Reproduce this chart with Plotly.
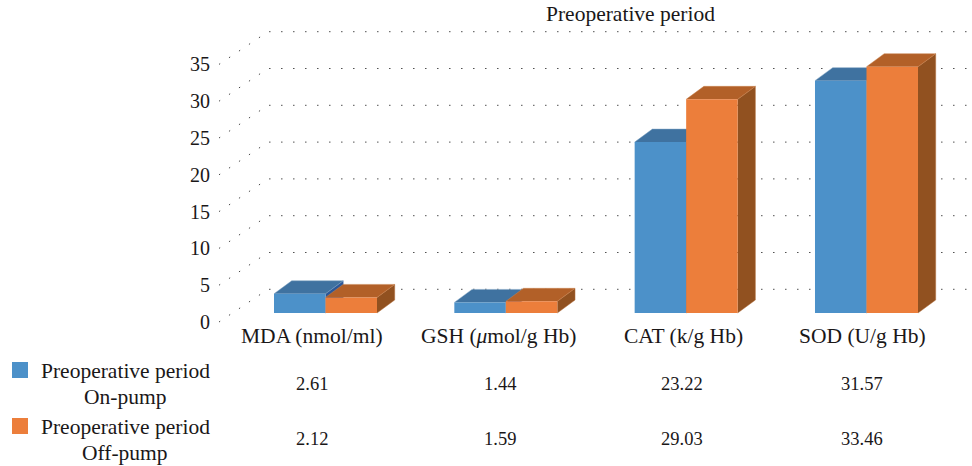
'''
    Preoperative period: pseudo 3D grouped bars with the values table below.
'''

import plotly.graph_objects as go

# data
categories = ['MDA (nmol/ml)', 'GSH (<i>μ</i>mol/g Hb)', 'CAT (k/g Hb)', 'SOD (U/g Hb)']
on_pump = [2.61, 1.44, 23.22, 31.57]
off_pump = [2.12, 1.59, 29.03, 33.46]
y_ticks = [0, 5, 10, 15, 20, 25, 30, 35]
title = 'Preoperative period'
legend_labels = [['Preoperative period', 'On-pump'], ['Preoperative period', 'Off-pump']]

W, H = 972, 466
FONT = 'Liberation Serif'
FONT_SIZE = 21.5
NUM_SIZE = 18.5
TEXT = '#1a1718'

# axis mapping (pixels)
X_CENTER, X_STEP = 325.5, 180.33
Y_ZERO, Y_STEP = 322, 7.36
x_range = [-X_CENTER / X_STEP, (W - X_CENTER) / X_STEP]
y_range = [(Y_ZERO - H) / Y_STEP, Y_ZERO / Y_STEP]

# projection of the 3D look, in axis units
BAR_W = 51.5 / X_STEP
BAR_BASE = 9 / Y_STEP
BAR_DX, BAR_DY = 17.7 / X_STEP, 13 / Y_STEP
GRID_X0 = (219 - X_CENTER) / X_STEP
GRID_DX, GRID_DY = 49 / X_STEP, 32.7 / Y_STEP
GRID_X1 = (968 - X_CENTER) / X_STEP

BLUE = dict(front='#4c91c9', top='#3f72a0', side='#2b5797',
            top_edge='#7fa3c2', side_edge='#4a73ab')
ORANGE = dict(front='#ec7e3b', top='#b26028', side='#915120',
              top_edge='#c9824f', side_edge='#b5713f')

label_x = [312, 498, 683, 862]
value_x = [312, 500, 682, 862]


def box_faces(values, offset):
    top_x, top_y, side_x, side_y = [], [], [], []
    for i, v in enumerate(values):
        x0 = i + offset
        x1 = x0 + BAR_W
        y1 = BAR_BASE + v
        top_x += [x0, x0 + BAR_DX, x1 + BAR_DX, x1, None]
        top_y += [y1, y1 + BAR_DY, y1 + BAR_DY, y1, None]
        side_x += [x1, x1 + BAR_DX, x1 + BAR_DX, x1, None]
        side_y += [BAR_BASE, BAR_BASE + BAR_DY, y1 + BAR_DY, y1, None]
    return top_x, top_y, side_x, side_y


def add_faces(fig, values, offset, colors):
    top_x, top_y, side_x, side_y = box_faces(values, offset)
    faces = [(side_x, side_y, colors['side'], colors['side_edge']),
             (top_x, top_y, colors['top'], colors['top_edge'])]
    for xs, ys, c, edge in faces:
        fig.add_trace(go.Scatter(x=xs, y=ys, mode='lines', fill='toself', fillcolor=c,
                                 line=dict(color=edge, width=0.5), hoverinfo='skip',
                                 showlegend=False))


def text(x, y, s, size=FONT_SIZE):
    return dict(text=s, x=x / W, y=1 - y / H, xref='paper', yref='paper', showarrow=False,
                xanchor='center', yanchor='middle', align='center',
                font=dict(family=FONT, size=size, color=TEXT))


fig = go.Figure()

# dotted floor/wall grid
for t in y_ticks:
    fig.add_trace(go.Scatter(
        x=[GRID_X0, GRID_X0 + GRID_DX, GRID_X1],
        y=[t, t + GRID_DY, t + GRID_DY],
        mode='lines', line=dict(color='#444444', width=1, dash='1.4px,10.6px'),
        hoverinfo='skip', showlegend=False))

add_faces(fig, on_pump, -BAR_W, BLUE)
add_faces(fig, off_pump, 0, ORANGE)

# front faces sit on the overlay axes so they cover the other series' faces
x_pos = list(range(len(categories)))
fig.add_trace(go.Bar(x=x_pos, y=on_pump, base=BAR_BASE, width=BAR_W, offset=-BAR_W,
                     marker=dict(color=BLUE['front'], line_width=0), name='On-pump',
                     xaxis='x2', yaxis='y2', showlegend=False))
fig.add_trace(go.Bar(x=x_pos, y=off_pump, base=BAR_BASE, width=BAR_W, offset=0,
                     marker=dict(color=ORANGE['front'], line_width=0), name='Off-pump',
                     xaxis='x2', yaxis='y2', showlegend=False))

annotations = [text(630, 14, title)]
for i, cat in enumerate(categories):
    annotations.append(text(label_x[i], 336, cat))
    annotations.append(text(value_x[i], 384, f'{on_pump[i]:.2f}', NUM_SIZE))
    annotations.append(text(value_x[i], 439, f'{off_pump[i]:.2f}', NUM_SIZE))
for lines, y in zip(legend_labels, [371, 427]):
    annotations.append(text(125, y, lines[0]))
    annotations.append(text(125, y + 26, lines[1]))

swatches = []
for y0, c in [(362, BLUE['front']), (418, ORANGE['front'])]:
    swatches.append(dict(type='rect', xref='paper', yref='paper', x0=12 / W, x1=28 / W,
                         y0=1 - y0 / H, y1=1 - (y0 + 16) / H, fillcolor=c, line_width=0))

fig.update_layout(
    width=W, height=H,
    margin=dict(l=0, r=0, t=0, b=0),
    paper_bgcolor='white', plot_bgcolor='white',
    barmode='overlay',
    annotations=annotations,
    shapes=swatches,
    xaxis=dict(range=x_range, visible=False, fixedrange=True),
    yaxis=dict(range=y_range, anchor='free', position=210 / W, tickmode='array',
               tickvals=y_ticks, showgrid=False, zeroline=False, showline=False,
               ticks='', fixedrange=True,
               tickfont=dict(family=FONT, size=NUM_SIZE + 1.5, color=TEXT)),
    xaxis2=dict(range=x_range, overlaying='x', visible=False, fixedrange=True),
    yaxis2=dict(range=y_range, overlaying='y', visible=False, fixedrange=True),
)

# the page's default 8px body margin would push the chart off the window
fig.write_html('out.html', config=dict(displayModeBar=False),
               post_script="document.body.style.margin='0';")
